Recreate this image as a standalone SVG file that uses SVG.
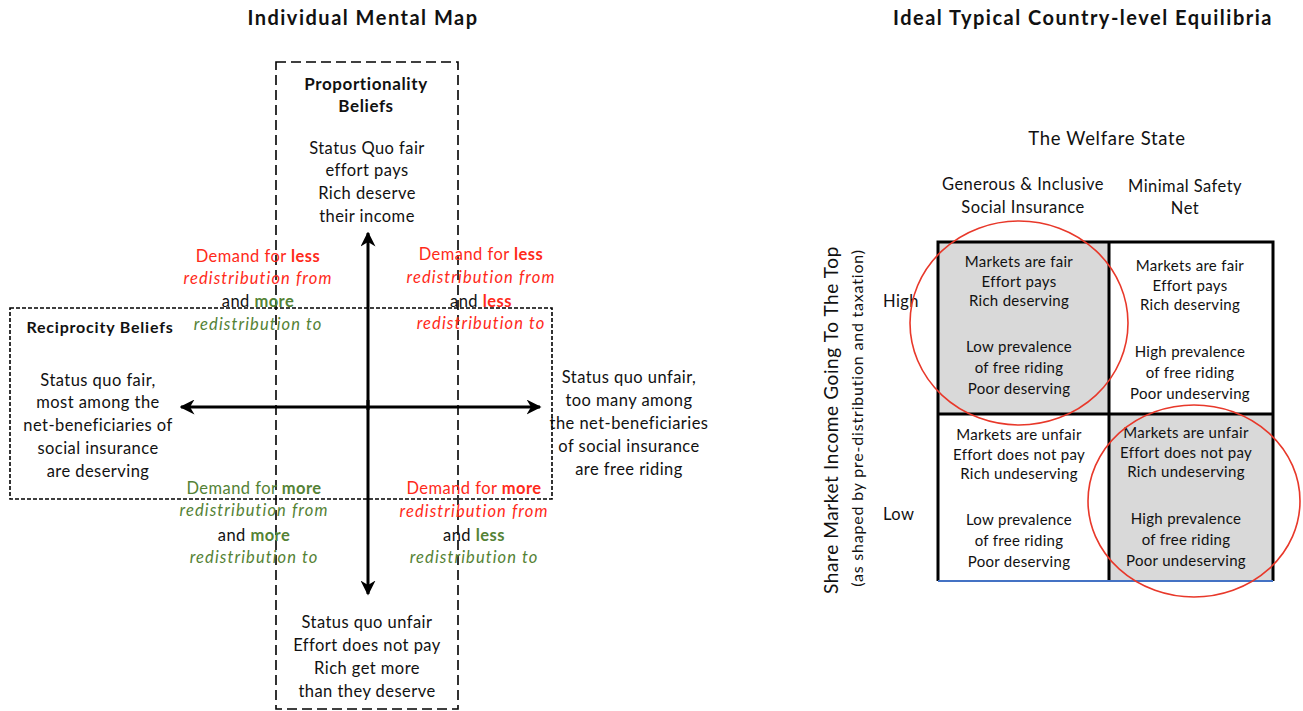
<svg xmlns="http://www.w3.org/2000/svg" width="1303" height="711" viewBox="0 0 1303 711">
<style>
text{font-family:Lato,"Open Sans","Liberation Sans",sans-serif;fill:#111;text-anchor:middle}
.t{font-size:20px;font-weight:bold;letter-spacing:1.5px}
.n{font-size:16.5px;letter-spacing:0.45px}
.s{font-size:15px;letter-spacing:0.3px}
.b{font-weight:bold}
.r{fill:#ff2a1a}
.g{fill:#548235}
.i{font-style:italic;letter-spacing:1.1px}
.arr{stroke:#000;stroke-width:3;fill:none}
.dl{stroke:#000;stroke-width:1.6;fill:none;stroke-dasharray:10 5}
.ds{stroke:#000;stroke-width:1.6;fill:none;stroke-dasharray:4 2}
.grid{stroke:#000;stroke-width:3;fill:none}
.circ{stroke:#e8382a;stroke-width:1.6;fill:none}
</style>
<defs>
<marker id="ah" viewBox="0 0 10 10" refX="9" refY="5" markerWidth="5" markerHeight="5" orient="auto-start-reverse" markerUnits="strokeWidth">
<path d="M0,0 L10,5 L0,10 L3,5 Z" fill="#000"/>
</marker>
</defs>
<rect width="1303" height="711" fill="#fff"/>

<text class="t" x="363" y="25">Individual Mental Map</text>
<text class="t" x="1083" y="25">Ideal Typical Country-level Equilibria</text>

<g id="frames">
<rect class="dl" x="276" y="62" width="182" height="647"/>
<rect class="ds" x="10" y="308" width="542" height="191"/>
</g>

<g id="connectors">
<line class="arr" x1="368" y1="410" x2="368" y2="233" marker-end="url(#ah)"/>
<line class="arr" x1="368" y1="400" x2="368" y2="594" marker-end="url(#ah)"/>
<line class="arr" x1="181" y1="407" x2="540" y2="407" marker-end="url(#ah)" marker-start="url(#ah)"/>
</g>

<g id="proportionality">
<text class="n b" x="366" y="90" style="font-size:17px;letter-spacing:0.6px">Proportionality</text>
<text class="n b" x="366" y="112" style="font-size:17px;letter-spacing:0.6px">Beliefs</text>
<text class="n" x="367" y="154">Status Quo fair</text>
<text class="n" x="367" y="176">effort pays</text>
<text class="n" x="367" y="199">Rich deserve</text>
<text class="n" x="367" y="222">their income</text>
</g>

<g id="reciprocity">
<text class="n b" x="100" y="333" style="font-size:16px;letter-spacing:0.8px">Reciprocity Beliefs</text>
<text class="n" x="98" y="386">Status quo fair,</text>
<text class="n" x="98" y="408">most among the</text>
<text class="n" x="98" y="431">net-beneficiaries of</text>
<text class="n" x="98" y="454">social insurance</text>
<text class="n" x="98" y="477">are deserving</text>
</g>

<g id="right-belief">
<text class="n" x="629" y="383">Status quo unfair,</text>
<text class="n" x="629" y="406">too many among</text>
<text class="n" x="629" y="429">the net-beneficiaries</text>
<text class="n" x="629" y="452">of social insurance</text>
<text class="n" x="629" y="475">are free riding</text>
</g>

<g id="bottom-belief">
<text class="n" x="367" y="628">Status quo unfair</text>
<text class="n" x="367" y="651">Effort does not pay</text>
<text class="n" x="367" y="674">Rich get more</text>
<text class="n" x="367" y="697">than they deserve</text>
</g>

<g id="q-top-left">
<text class="n r" x="258" y="262">Demand for <tspan class="b">less</tspan></text>
<text class="n r i" x="258" y="284">redistribution from</text>
<text class="n" x="258" y="307">and <tspan class="b g">more</tspan></text>
<text class="n g i" x="258" y="330">redistribution to</text>
</g>
<g id="q-top-right">
<text class="n r" x="481" y="260">Demand for <tspan class="b">less</tspan></text>
<text class="n r i" x="481" y="283">redistribution from</text>
<text class="n" x="481" y="307">and <tspan class="b r">less</tspan></text>
<text class="n r i" x="481" y="329">redistribution to</text>
</g>
<g id="q-bottom-left">
<text class="n g" x="254" y="494">Demand for <tspan class="b">more</tspan></text>
<text class="n g i" x="254" y="516">redistribution from</text>
<text class="n" x="254" y="541">and <tspan class="b g">more</tspan></text>
<text class="n g i" x="254" y="563">redistribution to</text>
</g>
<g id="q-bottom-right">
<text class="n r" x="474" y="494">Demand for <tspan class="b">more</tspan></text>
<text class="n r i" x="474" y="517">redistribution from</text>
<text class="n" x="474" y="541">and <tspan class="b g">less</tspan></text>
<text class="n g i" x="474" y="563">redistribution to</text>
</g>

<g id="welfare-header">
<text style="font-size:18.5px;letter-spacing:0.7px" x="1107" y="145">The Welfare State</text>
<text class="n" x="1023" y="190">Generous &amp; Inclusive</text>
<text class="n" x="1023" y="213">Social Insurance</text>
<text class="n" x="1185" y="192">Minimal Safety</text>
<text class="n" x="1185" y="214">Net</text>
</g>

<g id="y-axis">
<text style="font-size:19px;letter-spacing:0.6px" transform="translate(838,420) rotate(-90)">Share Market Income Going To The Top</text>
<text style="font-size:16px;letter-spacing:0.8px" transform="translate(863,418) rotate(-90)">(as shaped by pre-distribution and taxation)</text>
<text class="n" x="883" y="307" style="text-anchor:start">High</text>
<text class="n" x="883" y="520" style="text-anchor:start">Low</text>
</g>

<g id="grid">
<rect x="938" y="242" width="171" height="172" fill="#d9d9d9"/>
<rect x="1109" y="414" width="164" height="167" fill="#d9d9d9"/>
<path class="grid" d="M938,581 V242 H1273 V581 M1109,242 V581 M938,414 H1273"/>
<line x1="938" y1="581" x2="1273" y2="581" stroke="#4472c4" stroke-width="2"/>
</g>

<g id="cell-tl">
<text class="s" x="1019" y="267">Markets are fair</text>
<text class="s" x="1019" y="287">Effort pays</text>
<text class="s" x="1019" y="306">Rich deserving</text>
<text class="s" x="1019" y="352">Low prevalence</text>
<text class="s" x="1019" y="373">of free riding</text>
<text class="s" x="1019" y="394">Poor deserving</text>
</g>
<g id="cell-tr">
<text class="s" x="1190" y="271">Markets are fair</text>
<text class="s" x="1190" y="291">Effort pays</text>
<text class="s" x="1190" y="310">Rich deserving</text>
<text class="s" x="1190" y="357">High prevalence</text>
<text class="s" x="1190" y="378">of free riding</text>
<text class="s" x="1190" y="399">Poor undeserving</text>
</g>
<g id="cell-bl">
<text class="s" x="1019" y="440">Markets are unfair</text>
<text class="s" x="1019" y="460">Effort does not pay</text>
<text class="s" x="1019" y="479">Rich undeserving</text>
<text class="s" x="1019" y="525">Low prevalence</text>
<text class="s" x="1019" y="546">of free riding</text>
<text class="s" x="1019" y="567">Poor deserving</text>
</g>
<g id="cell-br">
<text class="s" x="1186" y="438">Markets are unfair</text>
<text class="s" x="1186" y="458">Effort does not pay</text>
<text class="s" x="1186" y="477">Rich undeserving</text>
<text class="s" x="1186" y="524">High prevalence</text>
<text class="s" x="1186" y="545">of free riding</text>
<text class="s" x="1186" y="566">Poor undeserving</text>
</g>

<g id="circles">
<ellipse class="circ" cx="1019" cy="323" rx="109" ry="102"/>
<ellipse class="circ" cx="1194" cy="501" rx="106" ry="96"/>
</g>
</svg>
